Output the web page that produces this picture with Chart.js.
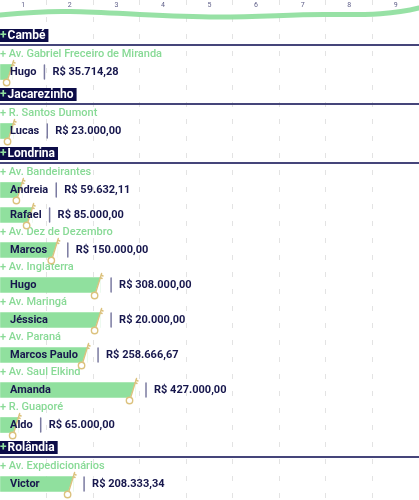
<!DOCTYPE html>
<html>
<head>
<meta charset="utf-8">
<script src="https://cdn.jsdelivr.net/npm/chart.js@4/dist/chart.umd.min.js"></script>
<style>
  html, body { margin: 0; padding: 0; background: #fff; }
  #wrap { width: 419px; height: 500px; position: relative; }
</style>
</head>
<body>
<div id="wrap"><canvas id="chart"></canvas></div>
<script>

// =============================
// DATA
// =============================

const axisLabels = ['1', '2', '3', '4', '5', '6', '7', '8', '9'];

const people = ['Hugo', 'Lucas', 'Andreia', 'Rafael', 'Marcos', 'Hugo', 'Jéssica', 'Marcos Paulo', 'Amanda', 'Aldo', 'Victor'];

const cities = ['Cambé', 'Jacarezinho', 'Londrina', 'Londrina', 'Londrina', 'Londrina', 'Londrina', 'Londrina', 'Londrina', 'Londrina', 'Rolândia'];

const streets = [
  'Av. Gabriel Freceiro de Miranda', 'R. Santos Dumont', 'Av. Bandeirantes', 'Av. Bandeirantes',
  'Av. Dez de Dezembro', 'Av. Inglaterra', 'Av. Maringá', 'Av. Paraná', 'Av. Saul Elkind',
  'R. Guaporé', 'Av. Expedicionários'
];

// bar lengths as drawn, in axis units
const barLengths = [0.26, 0.28, 0.47, 0.69, 1.22, 2.15, 2.15, 1.87, 2.9, 0.39, 1.57];

// amounts printed next to each bar (R$)
const amounts = [35714.28, 23000, 59632.11, 85000, 150000, 308000, 20000, 258666.67, 427000, 65000, 208333.34];


// =============================
// ROW LAYOUT
// =============================

const headerHeight = 23;
const rowHeights = { city: 24, street: 15, person: 20, gap: 5 };

const rows = [];
let prevCity = null;
let prevStreet = null;

people.forEach((name, i) => {
  if (cities[i] !== prevCity) {
    rows.push({ kind: 'city', text: cities[i] });
    prevStreet = null;
  }
  if (streets[i] !== prevStreet) {
    rows.push({ kind: 'street', text: streets[i] });
  } else {
    rows.push({ kind: 'gap' });
  }
  rows.push({ kind: 'person', index: i });
  prevCity = cities[i];
  prevStreet = streets[i];
});

let cursor = headerHeight;
rows.forEach(r => {
  r.y = cursor + rowHeights[r.kind] / 2;
  cursor += rowHeights[r.kind];
});

const personRows = rows.filter(r => r.kind === 'person');


// =============================
// HELPERS
// =============================

const navy = '#17174d';
const green = '#90e09e';
const gold = '#dcc27e';
const fontFamily = 'Roboto, "Noto Sans", sans-serif';

function formatBRL(v) {
  const parts = v.toFixed(2).split('.');
  const whole = parts[0].replace(/\B(?=(\d{3})+(?!\d))/g, '.');
  return 'R$ ' + whole + ',' + parts[1];
}


// =============================
// DECORATION PLUGIN
// =============================

const decorPlugin = {
  id: 'decor',

  afterDatasetsDraw(chart) {
    const ctx = chart.ctx;
    const xs = chart.scales.x;
    const ys = chart.scales.y;
    const left = chart.chartArea.left;
    const right = chart.chartArea.right;

    ctx.save();

    // top tick labels, centred in each cell
    ctx.fillStyle = '#5e5e88';
    ctx.font = '7px ' + fontFamily;
    ctx.textAlign = 'center';
    ctx.textBaseline = 'middle';
    axisLabels.forEach((lab, i) => {
      ctx.fillText(lab, xs.getPixelForValue(i + 0.5), 5);
    });

    // green wave
    ctx.strokeStyle = 'rgba(140, 222, 155, 0.9)';
    ctx.lineWidth = 5;
    ctx.lineCap = 'round';
    ctx.beginPath();
    ctx.moveTo(0, 15);
    ctx.bezierCurveTo(30, 12, 50, 11, 70, 11.5);
    ctx.bezierCurveTo(110, 12, 150, 16, 210, 17);
    ctx.bezierCurveTo(260, 17.5, 290, 14, 330, 14.5);
    ctx.bezierCurveTo(370, 15, 395, 14, 419, 8);
    ctx.stroke();

    ctx.textAlign = 'left';
    ctx.textBaseline = 'middle';

    rows.forEach(r => {
      const py = ys.getPixelForValue(r.y);

      if (r.kind === 'city') {
        ctx.font = 'bold 12px ' + fontFamily;
        const w = ctx.measureText('+ ' + r.text).width - 2;
        ctx.fillStyle = '#0c0c48';
        ctx.fillRect(left, py - 6, w + 3, 13);
        ctx.fillStyle = green;
        ctx.fillText('+', left, py + 0.5);
        ctx.fillStyle = '#ffffff';
        ctx.fillText(r.text, left + ctx.measureText('+').width + 1, py + 0.5);

        ctx.strokeStyle = '#45457a';
        ctx.lineWidth = 2;
        ctx.beginPath();
        ctx.moveTo(left, py + 10);
        ctx.lineTo(right, py + 10);
        ctx.stroke();
      }

      if (r.kind === 'street') {
        ctx.font = '500 11px ' + fontFamily;
        ctx.fillStyle = '#88da96';
        ctx.fillText('+ ' + r.text, left, py);
      }
    });

    // bar ends, keys, names and amounts
    const meta = chart.getDatasetMeta(0);
    meta.data.forEach((bar, i) => {
      const xe = bar.x;
      const top = bar.y - bar.height / 2;
      const bottom = bar.y + bar.height / 2;

      // slanted end
      ctx.fillStyle = '#ffffff';
      ctx.beginPath();
      ctx.moveTo(xe + 0.5, top - 0.5);
      ctx.lineTo(xe + 0.5, bottom + 0.5);
      ctx.lineTo(xe - 5, bottom + 0.5);
      ctx.closePath();
      ctx.fill();

      // key
      ctx.strokeStyle = gold;
      ctx.lineWidth = 1.4;
      ctx.beginPath();
      ctx.moveTo(xe + 1.5, top - 4);
      ctx.lineTo(xe - 4.5, bottom + 0.5);
      ctx.moveTo(xe + 0.8, top - 2.5);
      ctx.lineTo(xe + 3, top - 1.5);
      ctx.moveTo(xe, top);
      ctx.lineTo(xe + 2, top + 1);
      ctx.stroke();
      ctx.fillStyle = '#ffffff';
      ctx.beginPath();
      ctx.arc(xe - 5.5, bottom + 3, 3.2, 0, Math.PI * 2);
      ctx.fill();
      ctx.stroke();

      // name
      ctx.font = 'bold 11px ' + fontFamily;
      ctx.fillStyle = navy;
      ctx.fillText(people[i], left + 10, bar.y + 0.5);
      const nameEnd = left + 10 + ctx.measureText(people[i]).width;

      // separator + amount
      const sepX = Math.max(nameEnd, xe + 3) + 8;
      ctx.strokeStyle = '#7a7aa0';
      ctx.lineWidth = 1.5;
      ctx.beginPath();
      ctx.moveTo(sepX, bar.y - 7);
      ctx.lineTo(sepX, bar.y + 7);
      ctx.stroke();

      ctx.font = 'bold 11px ' + fontFamily;
      ctx.fillStyle = navy;
      ctx.fillText(formatBRL(amounts[i]), sepX + 8, bar.y + 0.5);
    });

    ctx.restore();
  }
};


// =============================
// CHART
// =============================

const ctx = document.getElementById('chart');

new Chart(ctx, {

  type: 'bar',

  data: {
    datasets: [{
      data: personRows.map(r => ({ x: barLengths[r.index], y: r.y })),
      backgroundColor: green,
      borderWidth: 0,
      barThickness: 15
    }]
  },

  options: {
    indexAxis: 'y',
    responsive: true,
    maintainAspectRatio: false,
    animation: false,
    layout: { padding: 0 },
    plugins: {
      legend: { display: false },
      tooltip: { enabled: false }
    },
    scales: {
      x: {
        type: 'linear',
        position: 'top',
        min: 0,
        max: axisLabels.length,
        ticks: { display: false, stepSize: 1 },
        grid: {
          drawTicks: false,
          color: c => (c.tick && (c.tick.value === 0 || c.tick.value === axisLabels.length)) ? 'rgba(0,0,0,0)' : '#e3e3e3',
          lineWidth: 1
        },
        border: { display: false, dash: [5, 12] }
      },
      y: {
        type: 'linear',
        display: false,
        reverse: true,
        offset: false,
        min: 0,
        max: 500
      }
    }
  },

  plugins: [decorPlugin]

});

</script>
</body>
</html>
